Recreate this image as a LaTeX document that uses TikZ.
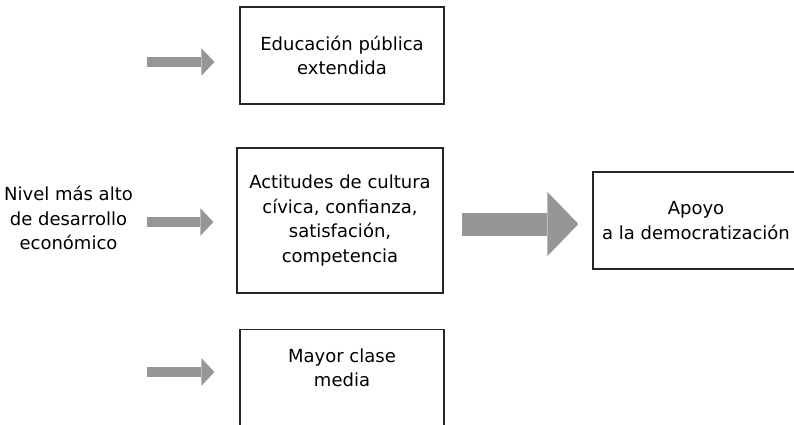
\documentclass[tikz,border=0pt]{standalone}
\usepackage{fontspec}
\setmainfont{DejaVu Sans}
\usepackage{tikz}
\usetikzlibrary{arrows.meta}

\definecolor{flechagris}{RGB}{150,150,150}

\begin{document}
\begin{tikzpicture}[x=1pt, y=-1pt, font=\fontsize{18}{24.5}\selectfont]
    \tikzstyle{caja} = [draw=black!85, line width=1.1pt, align=center, inner sep=0pt]
    \tikzstyle{texto} = [align=center, inner sep=0pt]
    \tikzstyle{flecha} = [color=flechagris, line width=9.4pt, -{Triangle[length=13pt, width=27.4pt, line width=0pt]}]
    \tikzstyle{flechagrande} = [color=flechagris, line width=23pt, -{Triangle[length=31pt, width=64pt, line width=0pt]}]
    \useasboundingbox (0,0) rectangle (794,425);
    % cajas
    \node[caja, minimum width=204, minimum height=97] (educacion) at (342,55.5) {Educación pública\\extendida};
    \node[caja, minimum width=206, minimum height=145] (actitudes) at (340,220.5) {Actitudes de cultura\\cívica, confianza,\\satisfación,\\competencia};
    \node[caja, minimum width=204, minimum height=110, anchor=north] (clase) at (342,329) {};
    \node[texto] (clasetxt) at (342,368) {Mayor clase\\media};
    \node[caja, minimum width=206, minimum height=97] (apoyo) at (696,220.5) {Apoyo\\a la democratización};
    \node[texto] (nivel) at (68.5,218) {Nivel más alto\\de desarrollo\\económico};
    % flechas
    \coordinate (a1) at (147,62);
    \coordinate (a3) at (147,372);
    \draw[flecha, shorten >=25pt] (a1) -- (a1 -| educacion.west);
    \draw[flecha, shorten <=14pt, shorten >=23pt] ([yshift=-4pt]nivel.east) -- ([yshift=-1.5pt]actitudes.west);
    \draw[flecha, shorten >=25pt] (a3) -- (a3 -| clase.west);
    \draw[flechagrande, shorten <=18pt, shorten >=14pt] ([yshift=-3.5pt]actitudes.east) -- ([yshift=-3.5pt]apoyo.west);
\end{tikzpicture}
\end{document}
